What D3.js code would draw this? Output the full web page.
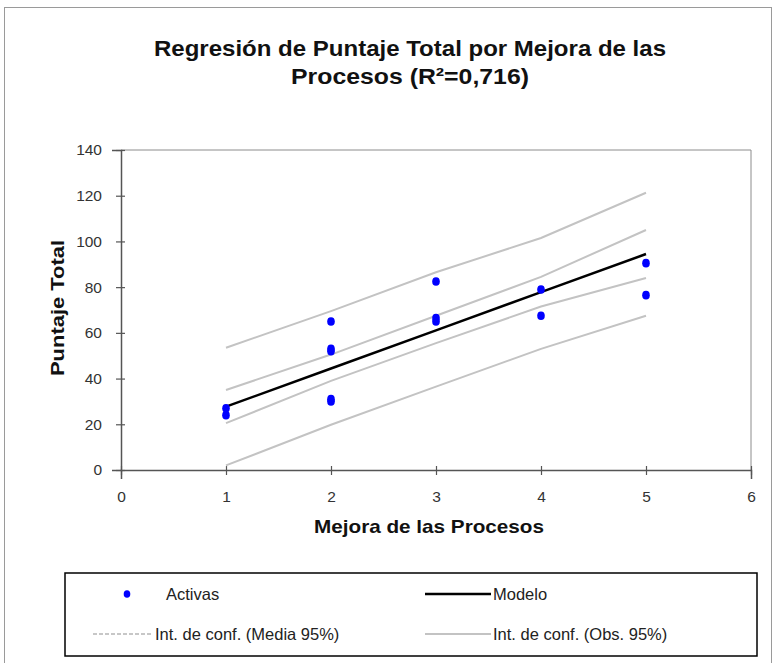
<!DOCTYPE html>
<html>
<head>
<meta charset="utf-8">
<script src="https://cdn.jsdelivr.net/npm/d3@7"></script>
<style>
  html, body { margin: 0; padding: 0; background: #ffffff; }
  svg { display: block; }
  text { font-family: "Liberation Sans", Arial, sans-serif; }
</style>
</head>
<body>
<svg id="chart" width="775" height="663"></svg>
<script>
// Observations: Mejora de las Procesos vs Puntaje Total
const obsX = [1, 1, 2, 2, 2, 2, 2, 3, 3, 3, 4, 4, 5, 5];
const obsY = [27, 24, 65, 53, 52, 31, 30, 82.5, 66.5, 65, 79, 67.5, 90.5, 76.5];

// Fitted model and 95% confidence bands, evaluated at each level
const levels    = [1, 2, 3, 4, 5];
const modelY    = [27.7, 44.4, 61.1, 77.8, 94.5];
const meanUpper = [35, 50.5, 67.5, 84.5, 105];
const meanLower = [20.5, 39, 55.5, 71.5, 84];
const obsUpper  = [53.5, 69.5, 86.5, 101.5, 121.3];
const obsLower  = [2, 19.8, 36.5, 53, 67.5];

const xTicks = [0, 1, 2, 3, 4, 5, 6];
const yTicks = [0, 20, 40, 60, 80, 100, 120, 140];

const titleLines = ["Regresión de Puntaje Total por Mejora de las", "Procesos (R²=0,716)"];
const xTitle = "Mejora de las Procesos";
const yTitle = "Puntaje Total";
const legendLabels = ["Activas", "Modelo", "Int. de conf. (Media 95%)", "Int. de conf. (Obs. 95%)"];

const svg = d3.select("#chart");

// outer frame
svg.append("rect")
  .attr("x", 4.5).attr("y", 7.5).attr("width", 767).attr("height", 660)
  .attr("fill", "#ffffff").attr("stroke", "#9a9a9a").attr("stroke-width", 1);

const plot = { left: 121, right: 751, top: 150, bottom: 470 };

const x = d3.scaleLinear().domain([0, 6]).range([plot.left, plot.right]);
const y = d3.scaleLinear().domain([0, 140]).range([plot.bottom, plot.top]);

// title, two centred lines
const titleWidths = [512, 238];
titleLines.forEach((t, i) => {
  svg.append("text")
    .attr("x", 410).attr("y", 56 + i * 28)
    .attr("text-anchor", "middle")
    .attr("font-size", 22).attr("font-weight", "bold").attr("fill", "#111")
    .attr("textLength", titleWidths[i]).attr("lengthAdjust", "spacingAndGlyphs")
    .text(t);
});

// plot frame (top and right edges)
svg.append("path")
  .attr("d", `M${plot.left},${plot.top}H${plot.right}V${plot.bottom}`)
  .attr("fill", "none").attr("stroke", "#8c8c8c").attr("stroke-width", 1);

// axes
const xAxis = d3.axisBottom(x).tickValues(xTicks).tickSize(9).tickPadding(12).tickFormat(d3.format("d"));
const yAxis = d3.axisLeft(y).tickValues(yTicks).tickSize(9).tickPadding(10).tickFormat(d3.format("d"));

const gx = svg.append("g").attr("transform", `translate(0,${plot.bottom})`).call(xAxis);
const gy = svg.append("g").attr("transform", `translate(${plot.left},0)`).call(yAxis);

[gx, gy].forEach(g => {
  g.select(".domain").attr("stroke", "#555").attr("stroke-width", 1.5);
  g.selectAll(".tick line").attr("stroke", "#555").attr("stroke-width", 1.2);
  g.selectAll(".tick text").attr("font-size", 15.5).attr("fill", "#333")
    .attr("font-family", "'Liberation Sans', Arial, sans-serif");
});
// ticks cross the axis line
gx.selectAll(".tick line").attr("y1", -4).attr("y2", 5);
gy.selectAll(".tick line").attr("x1", -5).attr("x2", 4);

// axis titles
svg.append("text")
  .attr("x", 429).attr("y", 533)
  .attr("text-anchor", "middle").attr("font-size", 19).attr("font-weight", "bold").attr("fill", "#111")
  .attr("textLength", 230).attr("lengthAdjust", "spacingAndGlyphs")
  .text(xTitle);
svg.append("text")
  .attr("transform", `translate(64,${(plot.top + plot.bottom) / 2 - 2}) rotate(-90)`)
  .attr("text-anchor", "middle").attr("font-size", 19).attr("font-weight", "bold").attr("fill", "#111")
  .attr("textLength", 136).attr("lengthAdjust", "spacingAndGlyphs")
  .text(yTitle);

// bands and model
const line = d3.line().x((d, i) => x(levels[i])).y(d => y(d));
const bands = [obsUpper, meanUpper, meanLower, obsLower];
svg.append("g").selectAll("path").data(bands).join("path")
  .attr("d", line).attr("fill", "none")
  .attr("stroke", "#c3c3c3").attr("stroke-width", 2);

svg.append("path").attr("d", line(modelY)).attr("fill", "none")
  .attr("stroke", "#000").attr("stroke-width", 2.5);

// observations
svg.append("g").selectAll("ellipse").data(obsX.map((v, i) => [v, obsY[i]])).join("ellipse")
  .attr("cx", d => x(d[0])).attr("cy", d => y(d[1]))
  .attr("rx", 3.8).attr("ry", 4.3).attr("fill", "#0000ff");

// legend
const lg = svg.append("g");
lg.append("rect").attr("x", 65).attr("y", 573).attr("width", 692).attr("height", 83)
  .attr("fill", "#fff").attr("stroke", "#000").attr("stroke-width", 1.5);

const row1 = 594, row2 = 634;
lg.append("ellipse").attr("cx", 127).attr("cy", row1).attr("rx", 3.3).attr("ry", 3.8).attr("fill", "#0000ff");
lg.append("line").attr("x1", 425).attr("x2", 491).attr("y1", row1).attr("y2", row1)
  .attr("stroke", "#000").attr("stroke-width", 2.5);
lg.append("line").attr("x1", 93).attr("x2", 153).attr("y1", row2).attr("y2", row2)
  .attr("stroke", "#b5b5b5").attr("stroke-width", 1.5).attr("stroke-dasharray", "4,2");
lg.append("line").attr("x1", 425).attr("x2", 491).attr("y1", row2).attr("y2", row2)
  .attr("stroke", "#c3c3c3").attr("stroke-width", 2);

const legendPos = [[166, row1], [493, row1], [155, row2], [493, row2]];
lg.selectAll("text.lbl").data(legendLabels).join("text")
  .attr("class", "lbl")
  .attr("x", (d, i) => legendPos[i][0]).attr("y", (d, i) => legendPos[i][1] + 6)
  .attr("font-size", 16.5).attr("fill", "#222")
  .text(d => d);
</script>
</body>
</html>
